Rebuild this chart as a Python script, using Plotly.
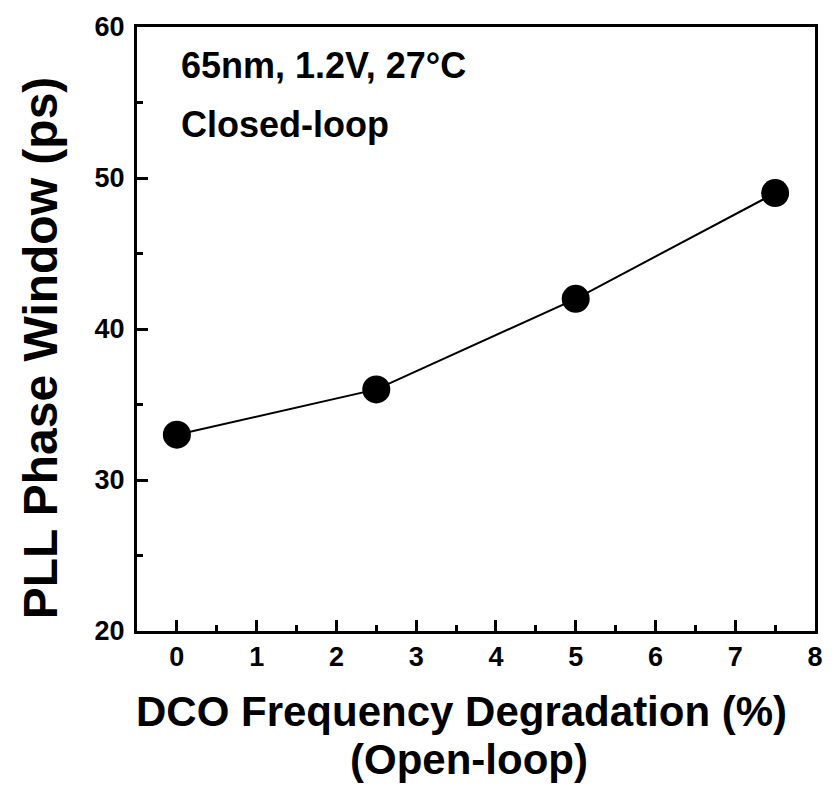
import plotly.graph_objects as go

x_vals = [0, 2.5, 5, 7.5]
y_vals = [33, 36, 42, 49]
x_ticks = [0, 1, 2, 3, 4, 5, 6, 7, 8]
y_ticks = [20, 30, 40, 50, 60]
note_lines = ["65nm, 1.2V, 27°C", "Closed-loop"]
x_title_lines = ["DCO Frequency Degradation (%)", "(Open-loop)"]
y_title = "PLL Phase Window (ps)"

FONT = "Liberation Sans, Arial, sans-serif"

fig = go.Figure()
fig.add_trace(go.Scatter(
    x=x_vals, y=y_vals, mode="lines+markers",
    line=dict(color="black", width=2),
    marker=dict(color="black", size=28),
    showlegend=False,
))

fig.update_layout(
    width=835, height=796,
    margin=dict(l=137, r=18, t=24, b=165),
    paper_bgcolor="white", plot_bgcolor="white",
    font=dict(family=FONT, color="black"),
)
fig.update_xaxes(
    range=[-0.5, 8], tickvals=x_ticks, ticktext=["<b>%d</b>" % v for v in x_ticks],
    showgrid=False, zeroline=False,
    showline=True, linecolor="black", linewidth=3, mirror=True,
    ticks="inside", ticklen=11, tickwidth=3, tickcolor="black",
    minor=dict(ticks="inside", ticklen=6, tickwidth=3, tickcolor="black", dtick=0.5, tick0=0.5),
    tickfont=dict(size=27, family=FONT),
)
fig.update_yaxes(
    range=[20, 60], tickvals=y_ticks, ticktext=["<b>%d</b>" % v for v in y_ticks],
    showgrid=False, zeroline=False,
    showline=True, linecolor="black", linewidth=3, mirror=True,
    ticks="inside", ticklen=11, tickwidth=3, tickcolor="black",
    minor=dict(ticks="inside", ticklen=6, tickwidth=3, tickcolor="black", dtick=5, tick0=25),
    tickfont=dict(size=27, family=FONT),
    ticklabelstandoff=4,
)

# axis titles as annotations (positions in plot-area fractions)
for txt, xx, yy in zip(x_title_lines, [0.479, 0.490], [-0.134, -0.213]):
    fig.add_annotation(
        xref="paper", yref="paper", x=xx, y=yy, xanchor="center", yanchor="middle",
        text="<b>%s</b>" % txt, showarrow=False,
        font=dict(size=42, family=FONT, color="black"),
    )
fig.add_annotation(
    xref="paper", yref="paper", x=-0.143, y=0.468, xanchor="center", yanchor="middle",
    text="<b>%s</b>" % y_title, showarrow=False, textangle=-90,
    font=dict(size=48, family=FONT, color="black"),
)

for txt, yy in zip(note_lines, [0.937, 0.838]):
    fig.add_annotation(
        xref="x domain", yref="y domain", x=0.062, y=yy, xanchor="left", yanchor="middle",
        text="<b>%s</b>" % txt, showarrow=False, align="left",
        font=dict(size=36, family=FONT, color="black"),
    )

fig.write_html("out.html")
